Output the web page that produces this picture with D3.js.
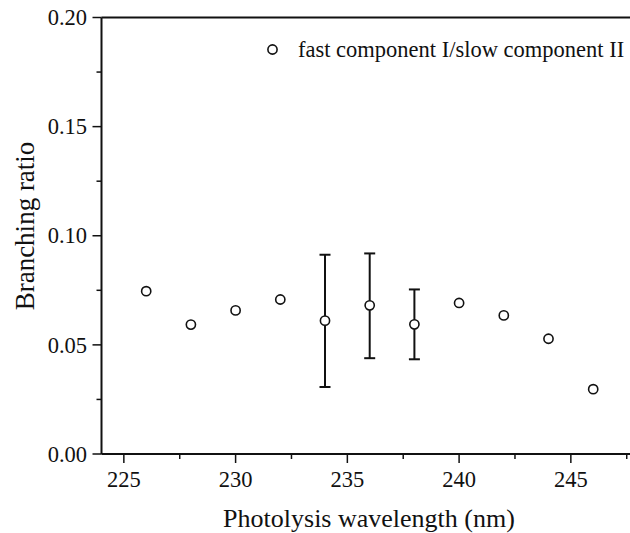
<!DOCTYPE html>
<html>
<head>
<meta charset="utf-8">
<script src="https://cdn.jsdelivr.net/npm/d3@7.9.0/dist/d3.min.js"></script>
<style>
  body { margin: 0; background: #fff; }
  svg text { font-family: "Liberation Serif", "Times New Roman", serif; fill: #111; }
</style>
</head>
<body>
<svg id="chart" width="630" height="533"></svg>
<script>
// data
const wavelengths = [226, 228, 230, 232, 234, 236, 238, 240, 242, 244, 246];
const ratios = [0.0746, 0.0593, 0.0658, 0.0708, 0.0611, 0.0681, 0.0594, 0.0692, 0.0635, 0.0528, 0.0297];
// error bars only on 234, 236, 238 (low, high)
const errLow = [null, null, null, null, 0.0307, 0.0439, 0.0434, null, null, null, null];
const errHigh = [null, null, null, null, 0.0913, 0.0919, 0.0754, null, null, null, null];
const xTicks = [225, 230, 235, 240, 245];
const yTicks = [0.00, 0.05, 0.10, 0.15, 0.20];
const legendLabel = "fast component I/slow component II";

const points = wavelengths.map((w, i) => ({ w, r: ratios[i], lo: errLow[i], hi: errHigh[i] }));

const svg = d3.select("#chart");
const plotLeft = 101.5, plotBottom = 454, plotTop = 17.5;

const x = d3.scaleLinear().domain([224, 248]).range([plotLeft, plotLeft + 24 * 22.35]);
const y = d3.scaleLinear().domain([0, 0.2]).range([plotBottom, plotTop]);

const ink = "#111";

// x axis - major and minor ticks
const xAxis = svg.append("g").attr("transform", `translate(0,${plotBottom})`);
xAxis.append("line").attr("x1", plotLeft).attr("x2", 640).attr("stroke", ink).attr("stroke-width", 2);
xAxis.selectAll(".minor").data(d3.range(227.5, 248, 5)).enter().append("line")
  .attr("x1", d => x(d)).attr("x2", d => x(d)).attr("y1", 0).attr("y2", 5)
  .attr("stroke", ink).attr("stroke-width", 1.5);
xAxis.selectAll(".major").data(xTicks).enter().append("line")
  .attr("x1", d => x(d)).attr("x2", d => x(d)).attr("y1", 0).attr("y2", 9)
  .attr("stroke", ink).attr("stroke-width", 1.5);
xAxis.selectAll("text").data(xTicks).enter().append("text")
  .attr("x", d => x(d)).attr("y", 33).attr("text-anchor", "middle")
  .attr("font-size", 22.5).text(d => d);

// y axis
const yAxis = svg.append("g").attr("transform", `translate(${plotLeft},0)`);
yAxis.append("line").attr("y1", plotTop).attr("y2", plotBottom).attr("stroke", ink).attr("stroke-width", 2);
yAxis.selectAll(".minor").data(d3.range(0.025, 0.2, 0.05)).enter().append("line")
  .attr("y1", d => y(d)).attr("y2", d => y(d)).attr("x1", 0).attr("x2", -5)
  .attr("stroke", ink).attr("stroke-width", 1.5);
yAxis.selectAll(".major").data(yTicks).enter().append("line")
  .attr("y1", d => y(d)).attr("y2", d => y(d)).attr("x1", 0).attr("x2", -9)
  .attr("stroke", ink).attr("stroke-width", 1.5);
yAxis.selectAll("text").data(yTicks).enter().append("text")
  .attr("x", -14.5).attr("y", d => y(d)).attr("dy", "0.34em").attr("text-anchor", "end")
  .attr("font-size", 22.5).text(d => d.toFixed(2));

// top frame line (right side runs off the picture)
svg.append("line").attr("x1", plotLeft).attr("x2", 640).attr("y1", plotTop).attr("y2", plotTop)
  .attr("stroke", ink).attr("stroke-width", 2);

// axis titles
svg.append("text").attr("x", 369).attr("y", 527).attr("text-anchor", "middle")
  .attr("font-size", 26).text("Photolysis wavelength (nm)");
svg.append("text").attr("transform", "translate(33.5,226) rotate(-90)")
  .attr("text-anchor", "middle").attr("font-size", 27).text("Branching ratio");

// error bars
const withErr = points.filter(d => d.lo !== null);
const eb = svg.append("g").attr("stroke", ink).attr("stroke-width", 2);
eb.selectAll(".v").data(withErr).enter().append("line")
  .attr("x1", d => x(d.w)).attr("x2", d => x(d.w)).attr("y1", d => y(d.lo)).attr("y2", d => y(d.hi));
eb.selectAll(".capHi").data(withErr).enter().append("line")
  .attr("x1", d => x(d.w) - 5.5).attr("x2", d => x(d.w) + 5.5).attr("y1", d => y(d.hi)).attr("y2", d => y(d.hi));
eb.selectAll(".capLo").data(withErr).enter().append("line")
  .attr("x1", d => x(d.w) - 5.5).attr("x2", d => x(d.w) + 5.5).attr("y1", d => y(d.lo)).attr("y2", d => y(d.lo));

// points
svg.append("g").selectAll("circle").data(points).enter().append("circle")
  .attr("cx", d => x(d.w)).attr("cy", d => y(d.r)).attr("r", 4.6)
  .attr("fill", "#fff").attr("stroke", ink).attr("stroke-width", 1.6);

// legend
svg.append("circle").attr("cx", 272.5).attr("cy", 49.5).attr("r", 4.6)
  .attr("fill", "#fff").attr("stroke", ink).attr("stroke-width", 1.6);
svg.append("text").attr("x", 298).attr("y", 56.5).attr("font-size", 22.5).text(legendLabel);
</script>
</body>
</html>
